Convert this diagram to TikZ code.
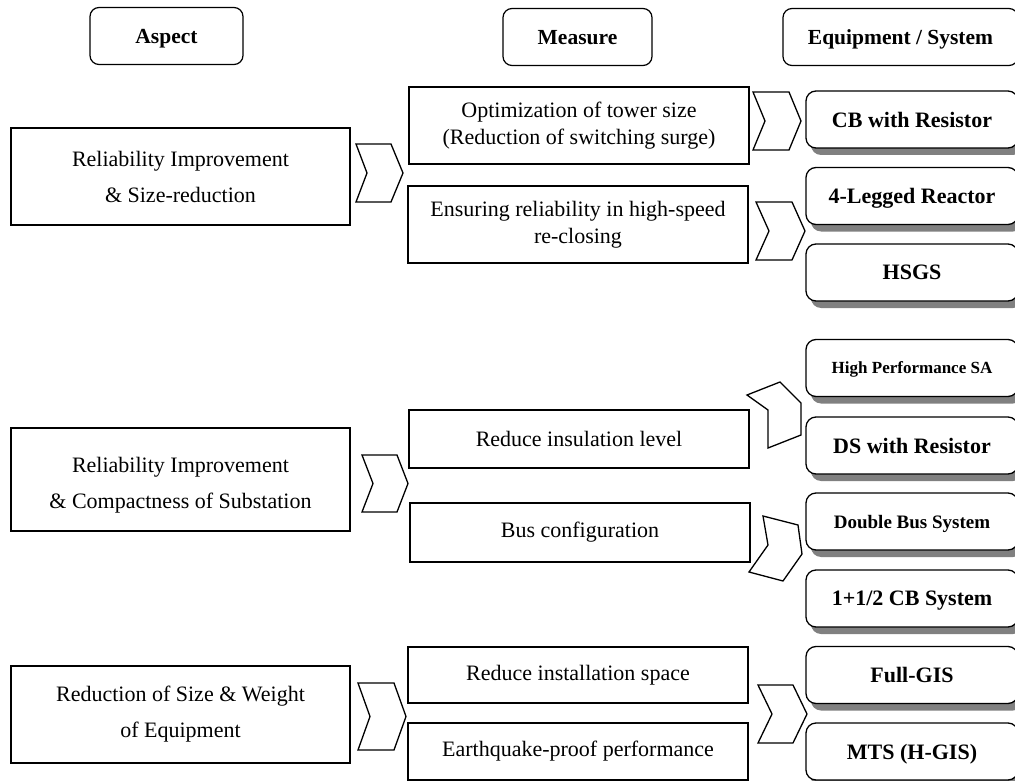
\documentclass[tikz,border=0pt]{standalone}
\usepackage{fontspec}
\setmainfont{Liberation Serif}
\usetikzlibrary{shadows}
\begin{document}
\begin{tikzpicture}[x=1pt,y=-1pt,
  hdr/.style={draw, line width=1.2pt, rounded corners=9pt, minimum height=57pt, inner sep=0pt, text depth=0pt, font=\fontsize{21.5}{24}\selectfont\bfseries},
  aspectbox/.style={draw, line width=1.3pt, minimum width=339pt, inner sep=0pt, align=center, font=\fontsize{22}{36}\selectfont},
  asptext/.style={inner sep=0pt, align=center, font=\fontsize{22}{36}\selectfont},
  measbox/.style={draw, line width=1.3pt, minimum width=340pt, inner sep=0pt, align=center, font=\fontsize{22}{26.5}\selectfont},
  equipbox/.style={draw, line width=1.3pt, rounded corners=10pt, fill=white, minimum width=212pt, minimum height=57pt, inner sep=0pt, text depth=0pt, font=\fontsize{22}{26}\selectfont\bfseries, drop shadow={shadow xshift=5pt, shadow yshift=-7pt, fill=black!50, opacity=1}},
  chev/.style={draw, line width=1.3pt, line join=miter, fill=white}
]
\useasboundingbox (0,0) rectangle (1015,781);

% headers
\node[hdr, minimum width=153pt] (hA) at (166.5,36) {Aspect};
\node[hdr, minimum width=149pt] (hM) at (577.5,37) {Measure};
\node[hdr, minimum width=235pt] (hE) at (900.5,37) {Equipment / System};

% aspect boxes
\node[aspectbox, minimum height=97pt] (a1) at (180.5,176.5) {Reliability Improvement\\\& Size-reduction};
\node[aspectbox, minimum height=103pt] (a2) at (180.5,479.5) {};
\node[asptext] (a2t) at (180.5,485.5) {Reliability Improvement\\\& Compactness of Substation};
\node[aspectbox, minimum height=97pt] (a3) at (180.5,714.5) {Reduction of Size \& Weight\\of Equipment};

% measure boxes
\node[measbox, minimum height=77pt] (m1) at (579,125.5) {Optimization of tower size\\(Reduction of switching surge)};
\node[measbox, minimum height=77pt] (m2) at (578,224.5) {Ensuring reliability in high-speed\\re-closing};
\node[measbox, minimum height=58pt] (m3) at (579,439) {Reduce insulation level};
\node[measbox, minimum height=59pt] (m4) at (580,532.5) {Bus configuration};
\node[measbox, minimum height=56pt] (m5) at (578,675) {Reduce installation space};
\node[measbox, minimum height=57pt] (m6) at (578,751.5) {Earthquake-proof performance};

% equipment boxes
\node[equipbox] (e1) at (912,119.5) {CB with Resistor};
\node[equipbox] (e2) at (912,196) {4-Legged Reactor};
\node[equipbox] (e3) at (912,272.5) {HSGS};
\node[equipbox, font=\fontsize{17}{20}\selectfont\bfseries] (e4) at (912,368) {High Performance SA};
\node[equipbox] (e5) at (912,445.5) {DS with Resistor};
\node[equipbox, font=\fontsize{19}{22}\selectfont\bfseries] (e6) at (912,521.5) {Double Bus System};
\node[equipbox] (e7) at (912,598.5) {1+1/2 CB System};
\node[equipbox] (e8) at (912,675) {Full-GIS};
\node[equipbox] (e9) at (912,751.5) {MTS (H-GIS)};

% chevrons aspect -> measure
\draw[chev] (356,144) -- (391,144) -- (403,173) -- (391,202) -- (356,202) -- (367,173) -- cycle;
\draw[chev] (362,455) -- (397,455) -- (408,483.5) -- (397,512) -- (362,512) -- (373,483.5) -- cycle;
\draw[chev] (358,683) -- (394,683) -- (406,716.5) -- (394,750) -- (358,750) -- (370,716.5) -- cycle;

% chevrons measure -> equipment
\draw[chev] (753,92) -- (789,92) -- (801,121) -- (789,150) -- (753,150) -- (765,121) -- cycle;
\draw[chev] (756,202) -- (792,202) -- (805,231) -- (792,260) -- (756,260) -- (769,231) -- cycle;
\draw[chev] (747,395) -- (780,382) -- (801,403) -- (801,435) -- (768,448) -- (768,410) -- cycle;
\draw[chev] (763,516) -- (798,525) -- (802,554) -- (783,581) -- (749,572) -- (768,545) -- cycle;
\draw[chev] (758,685) -- (793,685) -- (807,714) -- (793,743) -- (758,743) -- (772,714) -- cycle;
\end{tikzpicture}
\end{document}
